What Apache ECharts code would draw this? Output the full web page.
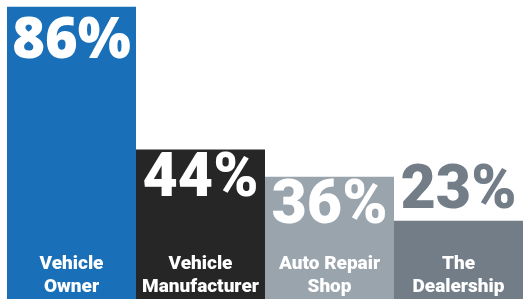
<!DOCTYPE html>
<html>
<head>
<meta charset="utf-8">
<script src="https://cdn.jsdelivr.net/npm/echarts@6/dist/echarts.min.js"></script>
<style>
  html, body { margin: 0; padding: 0; background: #fff; }
  #container { width: 523px; height: 299px; }
</style>
</head>
<body>
<div id="container"></div>
<script>
var dom = document.getElementById("container");
var myChart = echarts.init(dom);

var categories = ['Vehicle\nOwner', 'Vehicle\nManufacturer', 'Auto Repair\nShop', 'The\nDealership'];
var values = [86, 44, 36, 23];
var colors = ['#1a70b8', '#262626', '#9aa4ad', '#727d88'];

var barData = [];
for (var i = 0; i < values.length; i++) {
    var item = {
        value: values[i],
        itemStyle: { color: colors[i] }
    };
    if (i === 0) {
        item.label = { fontFamily: 'Open Sans', fontWeight: 800, fontSize: 56, distance: 7 };
    }
    // last bar is too short, so its number sits above it
    if (i === values.length - 1) {
        item.label = { position: 'top', distance: -2, color: colors[i] };
    }
    barData.push(item);
}

var option = {
    animation: false,
    grid: { left: 7, right: 0, top: 0, bottom: 0 },
    xAxis: {
        type: 'category',
        data: categories,
        z: 5,
        axisLine: { show: false },
        axisTick: { show: false },
        axisLabel: {
            inside: true,
            interval: 0,
            margin: 0,
            color: '#fff',
            fontFamily: 'Roboto',
            fontWeight: 900,
            fontSize: 19,
            lineHeight: 23,
            align: 'center'
        }
    },
    yAxis: {
        type: 'value',
        min: 0,
        max: 88,
        show: false
    },
    series: [{
        type: 'bar',
        barWidth: '100%',
        barCategoryGap: 0,
        data: barData,
        label: {
            show: true,
            position: 'insideTop',
            distance: 1,
            color: '#fff',
            fontFamily: 'Roboto',
            fontWeight: 900,
            fontSize: 61,
            formatter: '{c}%'
        }
    }]
};
myChart.setOption(option, true);
</script>
</body>
</html>
